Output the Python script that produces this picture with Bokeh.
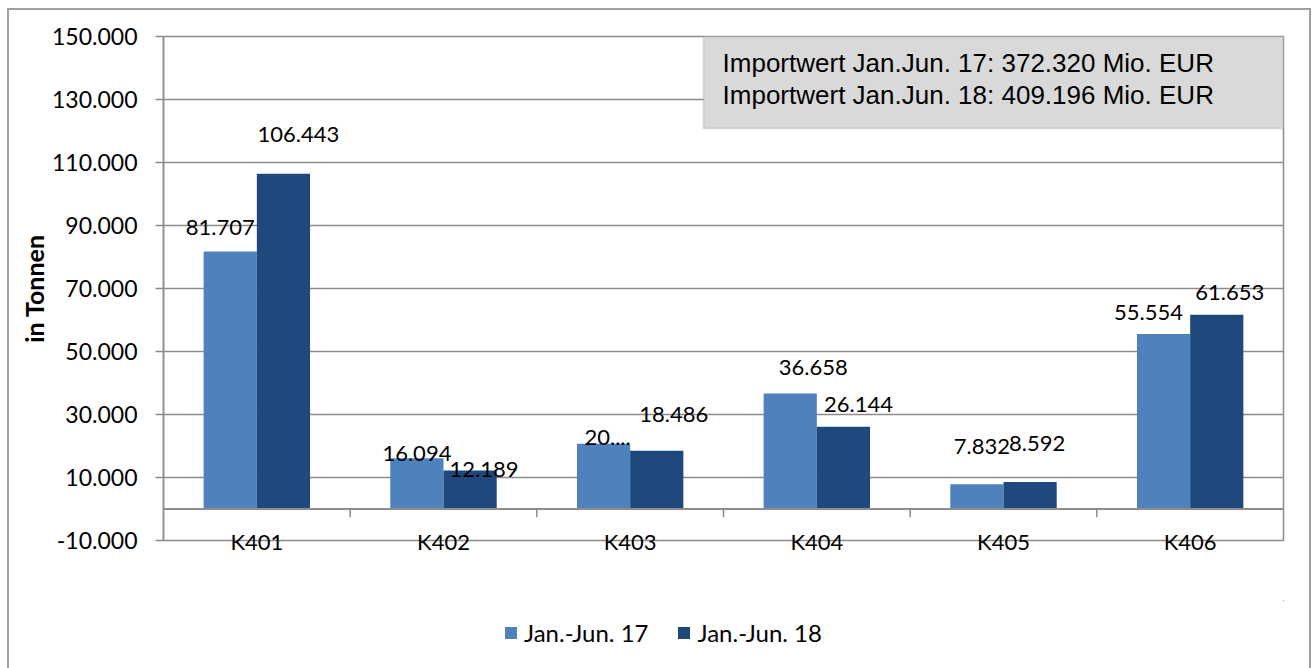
from bokeh.plotting import figure
from bokeh.layouts import column
from bokeh.models import (FixedTicker, Span, BoxAnnotation, Label, Legend,
                          LegendItem, ColumnDataSource)
from bokeh.core.properties import value
from bokeh.embed import file_html
from bokeh.resources import INLINE

# ---------------- data ----------------
categories = ["K401", "K402", "K403", "K404", "K405", "K406"]
series_names = ["Jan.-Jun. 17", "Jan.-Jun. 18"]
values_17 = [81707, 16094, 20700, 36658, 7832, 55554]
values_18 = [106443, 12189, 18486, 26144, 8592, 61653]
labels_17 = ["81.707", "16.094", "20....", "36.658", "7.832", "55.554"]
labels_18 = ["106.443", "12.189", "18.486", "26.144", "8.592", "61.653"]
y_ticks = [-10000, 10000, 30000, 50000, 70000, 90000, 110000, 130000, 150000]
y_tick_labels = ["-10.000", "10.000", "30.000", "50.000", "70.000",
                 "90.000", "110.000", "130.000", "150.000"]
info_lines = ["Importwert Jan.Jun. 17: 372.320 Mio. EUR",
              "Importwert Jan.Jun. 18: 409.196 Mio. EUR"]
y_axis_title = "in Tonnen"

# ---------------- styling ----------------
C17 = "#4f81bd"
C18 = "#1f497d"
GRID = "#8c8c8c"
FONT = "Lato"
BAR_W = 0.285
# data label pixel offsets (Excel placed them irregularly)
dx17 = [-10, 0, 4, 23, 5, -15]
dy17 = [24, 5, 6, 26, 38, 22]
dx18 = [15, 14, 17, 15, 7, 13]
dy18 = [39, 1, 36, 22, 38, 22]

n = len(categories)
centers = [i + 0.5 for i in range(n)]
src17 = ColumnDataSource(dict(x=[c - BAR_W / 2 for c in centers], top=values_17,
                              lab=labels_17, dx=dx17, dy=[-d for d in dy17]))
src18 = ColumnDataSource(dict(x=[c + BAR_W / 2 for c in centers], top=values_18,
                              lab=labels_18, dx=dx18, dy=[-d for d in dy18]))

p = figure(width=1316, height=600, x_range=(0, n), y_range=(y_ticks[0], y_ticks[-1]),
           output_backend="svg", toolbar_location=None,
           min_border_left=163, min_border_right=33, min_border_top=36,
           min_border_bottom=60)
p.border_fill_color = None
p.outline_line_color = GRID
p.outline_line_width = 1.5
p.background_fill_color = "white"

# grid
p.xgrid.visible = False
p.ygrid.ticker = FixedTicker(ticks=y_ticks)
p.ygrid.grid_line_color = GRID
p.ygrid.grid_line_width = 1.5

# y axis
p.yaxis.ticker = FixedTicker(ticks=y_ticks)
p.yaxis.major_label_overrides = {t: l for t, l in zip(y_ticks, y_tick_labels)}
p.yaxis.major_tick_out = 8
p.yaxis.major_tick_in = 0
p.yaxis.minor_tick_line_color = None
p.yaxis.axis_line_color = GRID
p.yaxis.axis_line_width = 1.5
p.yaxis.major_tick_line_color = GRID
p.yaxis.major_tick_line_width = 1.5
p.yaxis.major_label_standoff = 18
p.yaxis.major_label_text_font = FONT
p.yaxis.major_label_text_font_size = "23px"
p.yaxis.major_label_text_color = "black"
p.yaxis.axis_label = y_axis_title
p.yaxis.axis_label_text_font = FONT
p.yaxis.axis_label_text_font_style = "bold"
p.yaxis.axis_label_text_font_size = "25px"
p.yaxis.axis_label_text_color = "black"
p.yaxis.axis_label_standoff = 0

# x axis (category labels under the plot frame)
p.xaxis.ticker = FixedTicker(ticks=centers)
p.xaxis.major_label_overrides = {c: cat for c, cat in zip(centers, categories)}
p.xaxis.axis_line_color = None
p.xaxis.major_tick_line_color = None
p.xaxis.minor_tick_line_color = None
p.xaxis.major_tick_out = 0
p.xaxis.major_tick_in = 0
p.xaxis.major_label_standoff = -13
p.xaxis.major_label_text_font = FONT
p.xaxis.major_label_text_font_size = "22px"
p.xaxis.major_label_text_color = "black"

# zero (category) axis line with boundary ticks
p.add_layout(Span(location=0, dimension="width", line_color=GRID, line_width=2))
bounds = list(range(1, n))
p.segment(x0=bounds, x1=bounds, y0=[0] * len(bounds), y1=[-2600] * len(bounds),
          line_color=GRID, line_width=1.5)

# bars
r17 = p.vbar(x="x", top="top", bottom=0, width=BAR_W, source=src17,
             fill_color=C17, line_color=None)
r18 = p.vbar(x="x", top="top", bottom=0, width=BAR_W, source=src18,
             fill_color=C18, line_color=None)

# data labels
for src in (src17, src18):
    p.text(x="x", y="top", text="lab", x_offset="dx", y_offset="dy", source=src,
           text_align="center", text_baseline="middle", text_font=value(FONT),
           text_font_size="22px", text_color="black")

# info box
p.add_layout(BoxAnnotation(left=2.893, right=6, top=150000, bottom=120800,
                           fill_color="#d9d9d9", fill_alpha=1,
                           line_color="#a0a0a0", line_width=2))
for yy, line in zip([141700, 131550], info_lines):
    p.add_layout(Label(x=2.995, y=yy, text=line, text_baseline="middle",
                       text_align="left", text_font="Liberation Sans",
                       text_font_size="26px", text_color="black"))

# ---------------- legend strip (own figure below the chart) ----------------
# same series drawn in a strip whose ranges lie away from the data, so only
# the legend is visible there
q = figure(width=1316, height=68, x_range=(-20, -19), y_range=(-20, -19),
           output_backend="svg", toolbar_location=None,
           x_axis_location=None, y_axis_location=None, min_border=0)
q.grid.visible = False
q.outline_line_color = None
q.border_fill_color = None
q.background_fill_color = None
k17 = q.vbar(x="x", top="top", bottom=0, width=BAR_W, source=src17,
             fill_color=C17, line_color=None)
k18 = q.vbar(x="x", top="top", bottom=0, width=BAR_W, source=src18,
             fill_color=C18, line_color=None)
legend = Legend(items=[LegendItem(label=series_names[0], renderers=[k17]),
                       LegendItem(label=series_names[1], renderers=[k18])],
                location=(340, 21), orientation="horizontal",
                glyph_width=15, glyph_height=15, label_standoff=6, spacing=28,
                padding=0, margin=0, border_line_color=None,
                background_fill_alpha=0, label_text_font=FONT,
                label_text_font_size="24px", label_text_color="black")
q.add_layout(legend)

gr = "linear-gradient(#a0a0a0, #a0a0a0)"
layout = column(p, q, spacing=0,
                styles={"background": f"{gr} 7px 8px / 2px 660px no-repeat, "
                                      f"{gr} 7px 8px / 1304px 2px no-repeat, "
                                      f"{gr} 1309px 8px / 2px 660px no-repeat"})

open("out.html", "w").write(file_html(layout, INLINE))
